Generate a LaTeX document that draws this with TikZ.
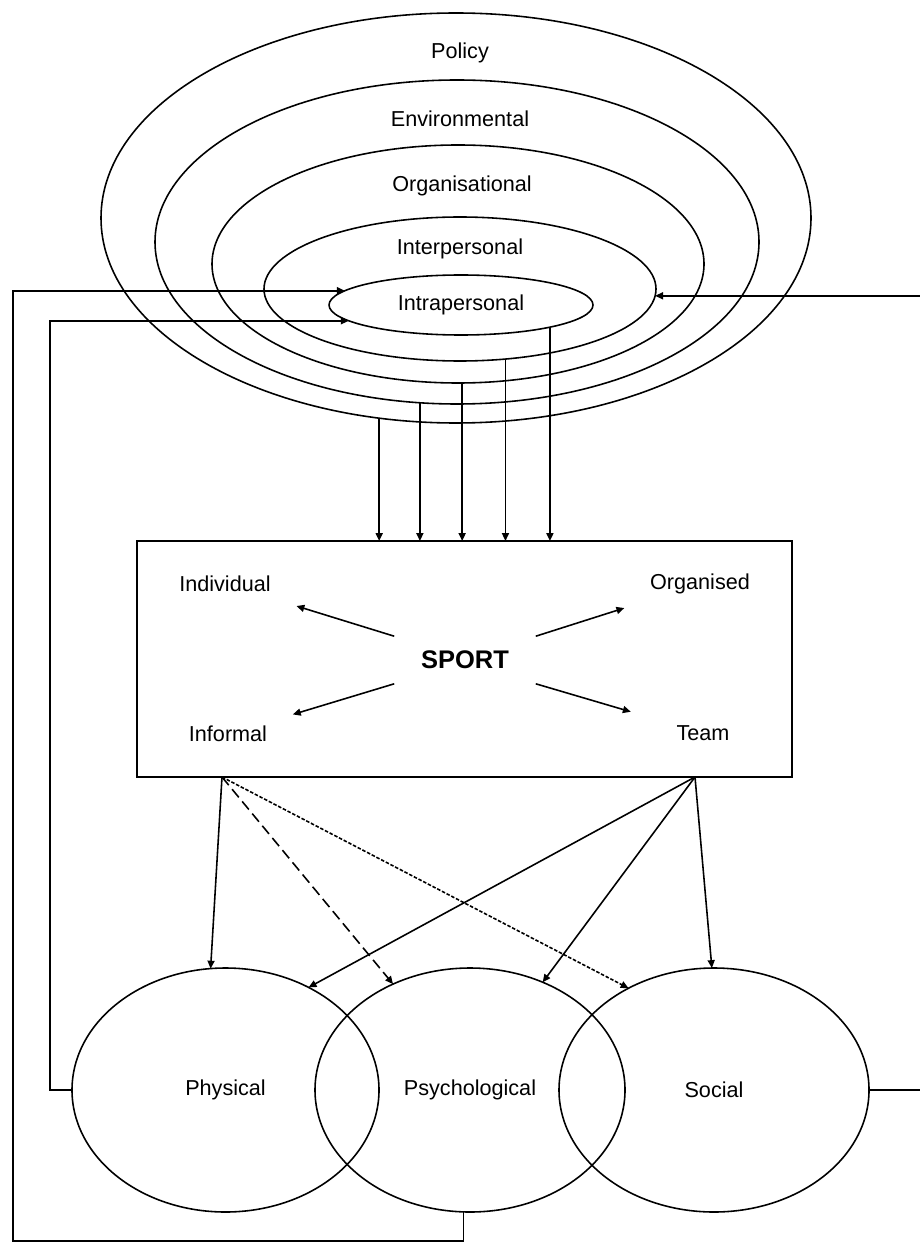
\documentclass[tikz,border=0pt]{standalone}
\usepackage{fontspec}
\setmainfont{Liberation Sans}
\usetikzlibrary{arrows.meta}
\usetikzlibrary{shapes.geometric}

\begin{document}
\begin{tikzpicture}[
        line width=0.9pt,
        >={Triangle[length=4.5pt,width=4pt]},
        font=\fontsize{12.3}{14}\selectfont,
        ring/.style={draw, ellipse, inner sep=0pt, outer sep=0pt},
        sportlbl/.style={inner sep=0.5cm},
        longdash/.style={dash pattern=on 6pt off 3pt},
        shortdash/.style={dash pattern=on 2pt off 1pt}
    ]
        \newcommand{\figsportrightedge}{18.4}
        \newcommand{\figsportinnerline}{1.0}
        \newcommand{\figsportouterline}{0.26}
        \newcommand{\figsportbottomline}{-24.82}
        \useasboundingbox (0,0) rectangle (\figsportrightedge,-24.98);
        \node[ring, minimum width=14.2cm, minimum height=8.2cm] (policy) at (9.12,-4.36) {};
        \node[ring, minimum width=12.08cm, minimum height=6.48cm] (environ) at (9.14,-4.84) {};
        \node[ring, minimum width=9.84cm, minimum height=4.76cm] (organ) at (9.16,-5.28) {};
        \node[ring, minimum width=7.84cm, minimum height=2.88cm] (inter) at (9.2,-5.78) {};
        \node[ring, minimum width=5.28cm, minimum height=1.2cm] (intra) at (9.22,-6.1) {Intrapersonal};
        \node (policytxt) at (9.2,-1.06) {Policy};
        \node (environtxt) at (9.2,-2.38) {Environmental};
        \node (organtxt) at (9.24,-3.72) {Organisational};
        \node (intertxt) at (9.2,-4.98) {Interpersonal};
        \node[draw, rectangle, minimum width=13.1cm, minimum height=4.72cm, inner sep=0pt, outer sep=0pt] (box) at (9.29,-13.18) {};
        \foreach \ring/\ang in {policy/249.2, environ/257.4, organ/272.4, inter/303.9, intra/346}
            \draw[->] (\ring.\ang) -- (\ring.\ang |- box.north);
        \node[font=\fontsize{14.5}{17}\selectfont\bfseries, minimum width=2.8cm, minimum height=0.92cm, inner sep=0pt] (sport) at (9.3,-13.2) {SPORT};
        \node[sportlbl] (indiv) at (4.5,-11.68) {Individual};
        \node[sportlbl] (organised) at (14.0,-11.68) {Organised};
        \node[sportlbl] (informal) at (4.56,-14.68) {Informal};
        \node[sportlbl, inner xsep=0.9cm] (team) at (14.06,-14.66) {Team};
        \draw[->] (sport.north west) -- (indiv);
        \draw[->] (sport.north east) -- (organised);
        \draw[->] (sport.south west) -- (informal);
        \draw[->] (sport.south east) -- (team);
        \node[ring, minimum width=6.14cm, minimum height=4.88cm] (phys) at (4.51,-21.8) {Physical};
        \node[ring, minimum width=6.2cm, minimum height=4.88cm] (psych) at (9.4,-21.8) {Psychological};
        \node[ring, minimum width=6.2cm, minimum height=4.88cm] (social) at (14.28,-21.8) {Social};
        \coordinate (infbot) at (box.south -| 4.44,0);
        \coordinate (teambot) at (box.south -| 13.9,0);
        \draw[->] (infbot) -- (phys.97);
        \draw[->, longdash] (infbot) -- (psych.126);
        \draw[->, shortdash] (infbot) -- (social.130);
        \draw[->] (teambot) -- (phys.51);
        \draw[->] (teambot) -- (psych.56);
        \draw[->] (teambot) -- (social.91);
        \coordinate (fbinner) at (intra.188 -| \figsportinnerline,0);
        \coordinate (fbouter) at (\figsportouterline,\figsportbottomline);
        \coordinate (fbright) at (inter.358 -| \figsportrightedge,0);
        \coordinate (fbsocial) at (social.east -| \figsportrightedge,0);
        \draw[->] (phys.west) -| (fbinner) -- (intra.188);
        \draw[->] (psych.267) |- (fbouter) |- (intra.173);
        \draw[->] (fbright) -- (inter.358);
        \draw (social.east) -- (fbsocial);
    \end{tikzpicture}
\end{document}
